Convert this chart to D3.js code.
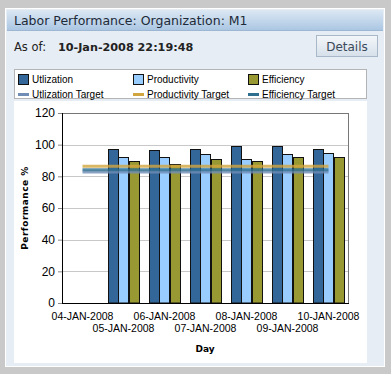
<!DOCTYPE html>
<html lang="en">
<head>
<meta charset="UTF-8">
<title>Labor Performance</title>
<script src="https://d3js.org/d3.v7.min.js"></script>
<style>
  body { margin: 0; background: #c9c9c9; font-family: "DejaVu Sans", Verdana, sans-serif; }
  #chart { width: 391px; height: 374px; }
</style>
</head>
<body>
<div id="chart"></div>
<script>
// Data
const days = ["04-JAN-2008", "05-JAN-2008", "06-JAN-2008", "07-JAN-2008", "08-JAN-2008", "09-JAN-2008", "10-JAN-2008"];
const utilization  = [null, 97, 96.5, 97.5, 99, 99, 97.5];
const productivity = [null, 92.5, 92, 94, 91, 94, 95];
const efficiency   = [null, 89.5, 88, 91, 90, 92.5, 92.5];
const utilizationTarget = 82.8;
const productivityTarget = 86.3;
const efficiencyTarget = 84.2;
const yTicks = [0, 20, 40, 60, 80, 100, 120];

const series = [
  { name: "Utlization", values: utilization, color: "#336699" },
  { name: "Productivity", values: productivity, color: "#99ccff" },
  { name: "Efficiency", values: efficiency, color: "#999933" }
];
const targets = [
  { name: "Utlization Target", value: utilizationTarget, color: "#6f8db5" },
  { name: "Efficiency Target", value: efficiencyTarget, color: "#2e6e8e" },
  { name: "Productivity Target", value: productivityTarget, color: "#d1a53f" }
];
const legendOrder = [series[0], series[1], series[2], targets[0], targets[2], targets[1]];

const svg = d3.select("#chart").append("svg")
  .attr("width", 391).attr("height", 374);

const defs = svg.append("defs");
const grad = defs.append("linearGradient").attr("id", "hdr").attr("x1", 0).attr("y1", 0).attr("x2", 0).attr("y2", 1);
grad.append("stop").attr("offset", "0%").attr("stop-color", "#dce8f4");
grad.append("stop").attr("offset", "100%").attr("stop-color", "#a9c5e2");
const bgrad = defs.append("linearGradient").attr("id", "btn").attr("x1", 0).attr("y1", 0).attr("x2", 0).attr("y2", 1);
bgrad.append("stop").attr("offset", "0%").attr("stop-color", "#f4f7fa");
bgrad.append("stop").attr("offset", "100%").attr("stop-color", "#d6e0ea");

// card
svg.append("rect").attr("x", 5.5).attr("y", 8.5).attr("width", 379).attr("height", 358)
  .attr("fill", "#e6edf4").attr("stroke", "#ffffff");
svg.append("rect").attr("x", 7).attr("y", 10).attr("width", 376).attr("height", 21)
  .attr("fill", "url(#hdr)");
svg.append("line").attr("x1", 7).attr("x2", 383).attr("y1", 30.5).attr("y2", 30.5).attr("stroke", "#9db7d2");
svg.append("text").attr("x", 14).attr("y", 25).attr("font-size", 12.5).attr("fill", "#1d2a38")
  .text("Labor Performance: Organization: M1");

svg.append("text").attr("x", 14).attr("y", 51).attr("font-size", 11.5).attr("fill", "#222").text("As of:");
svg.append("text").attr("x", 58).attr("y", 51).attr("font-size", 11.2).attr("font-weight", "bold")
  .attr("fill", "#222").text("10-Jan-2008 22:19:48");

// Details button
svg.append("rect").attr("x", 316.5).attr("y", 35.5).attr("width", 61).attr("height", 21)
  .attr("fill", "url(#btn)").attr("stroke", "#a8b8c8");
svg.append("text").attr("x", 347).attr("y", 51).attr("text-anchor", "middle").attr("font-size", 12)
  .attr("fill", "#3a4a5a").text("Details");

// chart panel
svg.append("rect").attr("x", 14).attr("y", 101).attr("width", 353).attr("height", 262).attr("fill", "#ffffff");

// legend
svg.append("rect").attr("x", 14.5).attr("y", 69.5).attr("width", 352).attr("height", 29)
  .attr("fill", "#ffffff").attr("stroke", "#b4b4b4");
const legend = svg.append("g").attr("font-family", "'Liberation Sans', Arial, sans-serif").attr("font-size", 10);
legendOrder.forEach((d, i) => {
  const col = i % 3, row = Math.floor(i / 3);
  const lx = 18 + col * 115, ly = 79 + row * 14.5;
  if (row === 0) {
    legend.append("rect").attr("x", lx + 0.5).attr("y", ly - 4.5).attr("width", 10).attr("height", 10)
      .attr("fill", d.color).attr("stroke", "#111");
  } else {
    legend.append("rect").attr("x", lx).attr("y", ly - 0.5).attr("width", 11).attr("height", 3)
      .attr("fill", d.color);
  }
  legend.append("text").attr("x", lx + 14).attr("y", ly + 4).attr("fill", "#000").text(d.name);
});

// plot
const plot = { left: 62, right: 349, top: 113, bottom: 303 };
const x = d3.scaleBand().domain(days).range([plot.left, plot.right]).paddingInner(0.22).paddingOuter(0.11);
const xs = d3.scaleBand().domain(series.map(s => s.name)).range([0, x.bandwidth()]);
const y = d3.scaleLinear().domain([0, 120]).range([plot.bottom, plot.top]);
const xFull = d3.scaleBand().domain(days).range([plot.left, plot.right]);

const g = svg.append("g");
g.selectAll("line.grid").data(yTicks.slice(1, -1)).join("line")
  .attr("class", "grid")
  .attr("x1", plot.left).attr("x2", plot.right)
  .attr("y1", d => Math.round(y(d)) + 0.5).attr("y2", d => Math.round(y(d)) + 0.5)
  .attr("stroke", "#c8c8c8");

series.forEach(s => {
  g.append("g").selectAll("rect").data(days.map((d, i) => ({ day: d, v: s.values[i] })).filter(d => d.v != null))
    .join("rect")
    .attr("x", d => Math.round(x(d.day) + xs(s.name)) + 0.5)
    .attr("y", d => Math.round(y(d.v)) + 0.5)
    .attr("width", Math.round(xs.bandwidth()) - 1)
    .attr("height", d => plot.bottom - Math.round(y(d.v)) - 0.5)
    .attr("fill", s.color).attr("stroke", "#111").attr("stroke-width", 1);
});

// target lines from first to last day centre
const x0 = xFull(days[0]) + xFull.bandwidth() / 2;
const x1 = xFull(days[days.length - 1]) + xFull.bandwidth() / 2;
targets.forEach(t => {
  g.append("line").attr("x1", x0).attr("x2", x1)
    .attr("y1", y(t.value)).attr("y2", y(t.value))
    .attr("stroke", t.color).attr("stroke-width", 3).attr("stroke-opacity", 0.8);
});

// plot border
g.append("rect").attr("x", plot.left + 0.5).attr("y", plot.top + 0.5)
  .attr("width", plot.right - plot.left - 1).attr("height", plot.bottom - plot.top)
  .attr("fill", "none").attr("stroke", "#777");
g.append("line").attr("x1", plot.left + 0.5).attr("x2", plot.left + 0.5).attr("y1", plot.top).attr("y2", plot.bottom + 1)
  .attr("stroke", "#000");
g.append("line").attr("x1", plot.left).attr("x2", plot.right).attr("y1", plot.bottom + 0.5).attr("y2", plot.bottom + 0.5)
  .attr("stroke", "#000");

// y axis
const yAxis = svg.append("g").attr("transform", `translate(${plot.left},0)`)
  .call(d3.axisLeft(y).tickValues(yTicks).tickSize(4).tickPadding(3));
yAxis.select(".domain").remove();
yAxis.selectAll(".tick line").attr("stroke", "#888");
yAxis.selectAll("text").attr("font-family", "'Liberation Sans', Arial, sans-serif").attr("font-size", 12).attr("fill", "#000");

// x axis labels, staggered
const xAxis = svg.append("g").attr("font-family", "'Liberation Sans', Arial, sans-serif").attr("font-size", 10.5);
days.forEach((d, i) => {
  xAxis.append("text").attr("x", xFull(d) + xFull.bandwidth() / 2)
    .attr("y", i % 2 === 0 ? 320 : 332).attr("text-anchor", "middle").attr("fill", "#000").text(d);
});

svg.append("text").attr("x", 205).attr("y", 352).attr("text-anchor", "middle")
  .attr("font-size", 9).attr("font-weight", "bold").attr("fill", "#000").text("Day");
svg.append("text").attr("transform", "translate(28,208) rotate(-90)").attr("text-anchor", "middle")
  .attr("font-size", 9).attr("font-weight", "bold").attr("letter-spacing", 0.5).attr("fill", "#000").text("Performance %");
</script>
</body>
</html>
